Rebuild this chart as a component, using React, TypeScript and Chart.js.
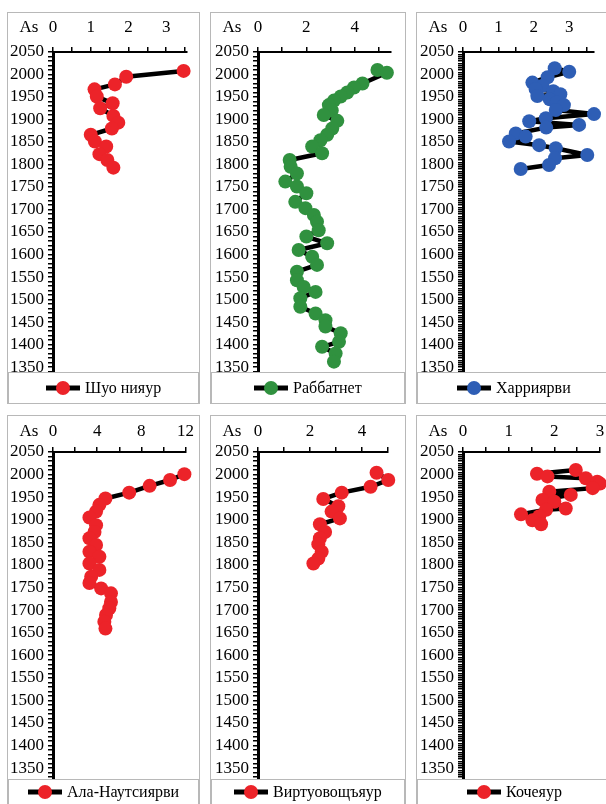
import React, { useEffect, useRef } from "react";
import { Chart, registerables } from "chart.js";

Chart.register(...registerables);

const FONT = "'Liberation Serif', 'Times New Roman', serif";

// Year labels on every vertical axis
const yearLabels = [2050, 2000, 1950, 1900, 1850, 1800, 1750, 1700, 1650, 1600, 1550, 1500, 1450, 1400, 1350];

// Шуо нияур
const shuoYears = [2008, 1995, 1978, 1967, 1951, 1936, 1925, 1908, 1893, 1880, 1866, 1851, 1840, 1823, 1810, 1793];
const shuoAs = [3.46, 1.94, 1.64, 1.1, 1.16, 1.58, 1.25, 1.6, 1.73, 1.56, 1.0, 1.11, 1.41, 1.23, 1.44, 1.6];
const shuoAsLabels = [0, 1, 2, 3];

// Раббатнет
const rabbYears = [
  2010, 2004, 1980, 1971, 1960, 1951, 1942, 1932, 1920, 1910, 1897, 1880, 1866, 1854, 1840, 1825, 1810, 1795,
  1780, 1762, 1751, 1736, 1717, 1703, 1688, 1673, 1654, 1640, 1625, 1610, 1595, 1577, 1562, 1543, 1528, 1517,
  1503, 1484, 1469, 1454, 1440, 1425, 1406, 1395, 1380, 1362,
];
const rabbAs = [
  4.94, 5.33, 4.32, 3.97, 3.69, 3.42, 3.14, 2.93, 3.05, 2.72, 3.28, 3.07, 2.86, 2.58, 2.24, 2.65, 1.31, 1.35,
  1.61, 1.13, 1.61, 2.0, 1.54, 1.96, 2.31, 2.44, 2.51, 2.0, 2.86, 1.68, 2.24, 2.44, 1.61, 1.61, 1.89, 2.38,
  1.75, 1.75, 2.38, 2.79, 2.79, 3.42, 3.35, 2.65, 3.21, 3.14,
];
const rabbAsLabels = [0, 2, 4];

// Харриярви
const harrYears = [
  2014, 2006, 1994, 1982, 1975, 1968, 1963, 1956, 1952, 1945, 1938, 1932, 1921, 1912, 1903, 1896, 1888, 1882,
  1869, 1862, 1851, 1843, 1836, 1821, 1814, 1799, 1790,
];
const harrAs = [
  2.59, 3.0, 2.39, 1.96, 2.25, 2.05, 2.55, 2.75, 2.1, 2.45, 2.65, 2.85, 2.62, 3.7, 2.34, 1.87, 3.28, 2.35,
  1.49, 1.77, 1.3, 2.15, 2.62, 3.51, 2.6, 2.43, 1.63,
];
const harrAsLabels = [0, 1, 2, 3];

// Ала-Наутсиярви
const alaYears = [
  2001, 1988, 1975, 1960, 1947, 1933, 1918, 1905, 1888, 1873, 1859, 1844, 1829, 1818, 1803, 1789, 1774, 1760,
  1748, 1737, 1718, 1704, 1689, 1674, 1659,
];
const alaAs = [
  11.9, 10.6, 8.75, 6.9, 4.75, 4.2, 3.9, 3.3, 3.9, 3.76, 3.3, 3.9, 3.3, 4.2, 3.3, 4.2, 3.46, 3.3, 4.36, 5.25,
  5.25, 5.1, 4.8, 4.65, 4.75,
];
const alaAsLabels = [0, 4, 8, 12];

// Виртуовощъяур
const virtYears = [2004, 1988, 1973, 1960, 1946, 1930, 1918, 1903, 1890, 1873, 1859, 1846, 1829, 1814, 1803];
const virtAs = [4.56, 5.01, 4.33, 3.22, 2.51, 3.09, 2.83, 3.15, 2.38, 2.58, 2.38, 2.32, 2.45, 2.32, 2.13];
const virtAsLabels = [0, 2, 4];

// Кочеяур
const kocheYears = [2010, 2002, 1996, 1992, 1984, 1980, 1970, 1962, 1955, 1944, 1940, 1925, 1922, 1912, 1908, 1899, 1890];
const kocheAs = [2.47, 1.62, 1.85, 2.69, 2.94, 3.0, 2.84, 1.89, 2.36, 1.74, 2.0, 2.25, 1.82, 1.27, 1.67, 1.52, 1.71];
const kocheAsLabels = [0, 1, 2, 3];

const RED = "#EC2329";
const GREEN = "#30913F";
const BLUE = "#2E5EB5";

type Row = { top: number; chartTop: number; chartBottom: number; yMin: number; xPad: number; keyOffset: number };
const upperRow: Row = { top: 12, chartTop: 39, chartBottom: 359, yMin: 1339, xPad: 9, keyOffset: 16 };
const lowerRow: Row = { top: 415, chartTop: 36, chartBottom: 363, yMin: 1326, xPad: 5, keyOffset: 13 };

type PanelCfg = {
  name: string;
  years: number[];
  values: number[];
  color: string;
  asLabels: number[];
  xMax: number;
  xStep: number;
  yStep: number;
  row: Row;
  left: number;
  width: number;
  axisLeft: number;
  axisRight: number;
};

const PANEL_H = 392;

const panels: PanelCfg[] = [
  { name: "Шуо нияур", years: shuoYears, values: shuoAs, color: RED, asLabels: shuoAsLabels, xMax: 3.55, xStep: 0.5, yStep: 10, row: upperRow, left: 7, width: 193, axisLeft: 45, axisRight: 179 },
  { name: "Раббатнет", years: rabbYears, values: rabbAs, color: GREEN, asLabels: rabbAsLabels, xMax: 5.5, xStep: 1, yStep: 10, row: upperRow, left: 210, width: 196, axisLeft: 47, axisRight: 180 },
  { name: "Харриярви", years: harrYears, values: harrAs, color: BLUE, asLabels: harrAsLabels, xMax: 3.7, xStep: 0.5, yStep: 5, row: upperRow, left: 416, width: 196, axisLeft: 46, axisRight: 177 },
  { name: "Ала-Наутсиярви", years: alaYears, values: alaAs, color: RED, asLabels: alaAsLabels, xMax: 12, xStep: 2, yStep: 10, row: lowerRow, left: 7, width: 193, axisLeft: 45, axisRight: 180 },
  { name: "Виртуовощъяур", years: virtYears, values: virtAs, color: RED, asLabels: virtAsLabels, xMax: 5, xStep: 1, yStep: 10, row: lowerRow, left: 210, width: 196, axisLeft: 47, axisRight: 177 },
  { name: "Кочеяур", years: kocheYears, values: kocheAs, color: RED, asLabels: kocheAsLabels, xMax: 3, xStep: 0.5, yStep: 5, row: lowerRow, left: 416, width: 196, axisLeft: 46, axisRight: 183 },
];

function stepTicks(min: number, max: number, step: number) {
  const out: { value: number }[] = [];
  const first = Math.ceil(min / step - 1e-9);
  const last = Math.floor(max / step + 1e-9);
  for (let i = first; i <= last; i++) out.push({ value: +(i * step).toFixed(6) });
  return out;
}

const hasLabel = (list: number[], v: number) => list.some((l) => Math.abs(l - v) < 1e-6);

function Panel({ cfg }: { cfg: PanelCfg }) {
  const ref = useRef<HTMLCanvasElement>(null);
  const cw = cfg.width - 2;
  const ch = PANEL_H - 2;

  useEffect(() => {
    const canvas = ref.current;
    if (!canvas) return;
    const row = cfg.row;
    const tickFont = { family: FONT, size: 17 };

    // Series key box under the plot, plus the "As" caption beside the top axis
    const decor = {
      id: "panelDecor",
      afterDraw(chart: any) {
        const { ctx, chartArea, width, height } = chart;
        const ds = chart.data.datasets[0];
        const top = chartArea.bottom;
        ctx.save();
        ctx.strokeStyle = "#B8B8B8";
        ctx.lineWidth = 1;
        ctx.strokeRect(0.5, top + 0.5, width - 1, height - top + 2);

        ctx.font = `16px ${FONT}`;
        const tw = ctx.measureText(ds.label).width;
        const sample = 34;
        const gap = 5;
        const x0 = Math.round((width - (sample + gap + tw)) / 2);
        const cy = top + row.keyOffset;
        ctx.strokeStyle = "#000";
        ctx.lineWidth = 5;
        ctx.beginPath();
        ctx.moveTo(x0, cy);
        ctx.lineTo(x0 + sample, cy);
        ctx.stroke();
        ctx.fillStyle = ds.pointBackgroundColor;
        ctx.beginPath();
        ctx.arc(x0 + sample / 2, cy, 7, 0, Math.PI * 2);
        ctx.fill();
        ctx.fillStyle = "#000";
        ctx.textBaseline = "middle";
        ctx.textAlign = "left";
        ctx.fillText(ds.label, x0 + sample + gap, cy + 1);

        const xs = chart.scales.x;
        const labelY = xs.bottom - 5 - row.xPad - 10.2;
        ctx.font = `17px ${FONT}`;
        ctx.textAlign = "center";
        ctx.fillText("As", 21, labelY);
        ctx.restore();
      },
    };

    const chart = new Chart(canvas, {
      type: "scatter",
      data: {
        datasets: [
          {
            label: cfg.name,
            data: cfg.years.map((y, i) => ({ x: cfg.values[i], y })),
            showLine: true,
            borderColor: "#000",
            borderWidth: 4.5,
            borderJoinStyle: "round",
            borderCapStyle: "round",
            pointRadius: 7,
            pointHoverRadius: 7,
            pointBorderWidth: 0,
            pointBackgroundColor: cfg.color,
            pointBorderColor: cfg.color,
            tension: 0,
            clip: false as any,
          },
        ],
      },
      options: {
        animation: false,
        responsive: false,
        maintainAspectRatio: false,
        events: [],
        layout: {
          padding: { left: 0, top: 0, right: cw - cfg.axisRight, bottom: ch - row.chartBottom },
        },
        plugins: { legend: { display: false }, tooltip: { enabled: false } },
        scales: {
          x: {
            type: "linear",
            position: "top",
            min: 0,
            max: cfg.xMax,
            afterBuildTicks: (s: any) => {
              s.ticks = stepTicks(0, cfg.xMax, cfg.xStep);
            },
            afterFit: (s: any) => {
              s.height = row.chartTop;
            },
            ticks: {
              autoSkip: false,
              maxRotation: 0,
              minRotation: 0,
              padding: row.xPad,
              color: "#000",
              font: tickFont,
              callback: (v: any) => (hasLabel(cfg.asLabels, Number(v)) ? String(Math.round(Number(v))) : ""),
            },
            grid: { drawOnChartArea: false, drawTicks: true, tickLength: 5, color: "#000", lineWidth: 1.5 },
            border: { display: true, color: "#000", width: 2 },
          },
          y: {
            type: "linear",
            min: row.yMin,
            max: 2050,
            afterBuildTicks: (s: any) => {
              s.ticks = stepTicks(row.yMin, 2050, cfg.yStep);
            },
            afterFit: (s: any) => {
              s.width = cfg.axisLeft;
            },
            ticks: {
              autoSkip: false,
              padding: 4,
              color: "#000",
              font: tickFont,
              callback: (v: any) => (hasLabel(yearLabels, Number(v)) ? String(v) : ""),
            },
            grid: { drawOnChartArea: false, drawTicks: true, tickLength: 5, color: "#000", lineWidth: 1.5 },
            border: { display: true, color: "#000", width: 3 },
          },
        },
      } as any,
      plugins: [decor],
    });
    return () => chart.destroy();
  }, [cfg]);

  return (
    <div
      style={{
        position: "absolute",
        left: cfg.left,
        top: cfg.row.top,
        width: cfg.width,
        height: PANEL_H,
        border: "1px solid #B8B8B8",
        boxSizing: "border-box",
        background: "#fff",
      }}
    >
      <canvas ref={ref} width={cw} height={ch} style={{ display: "block" }} />
    </div>
  );
}

export default function App() {
  return (
    <div
      style={{
        position: "absolute",
        left: 0,
        top: 0,
        width: 606,
        height: 804,
        overflow: "hidden",
        background: "#fff",
      }}
    >
      {panels.map((p) => (
        <Panel key={p.name} cfg={p} />
      ))}
    </div>
  );
}
